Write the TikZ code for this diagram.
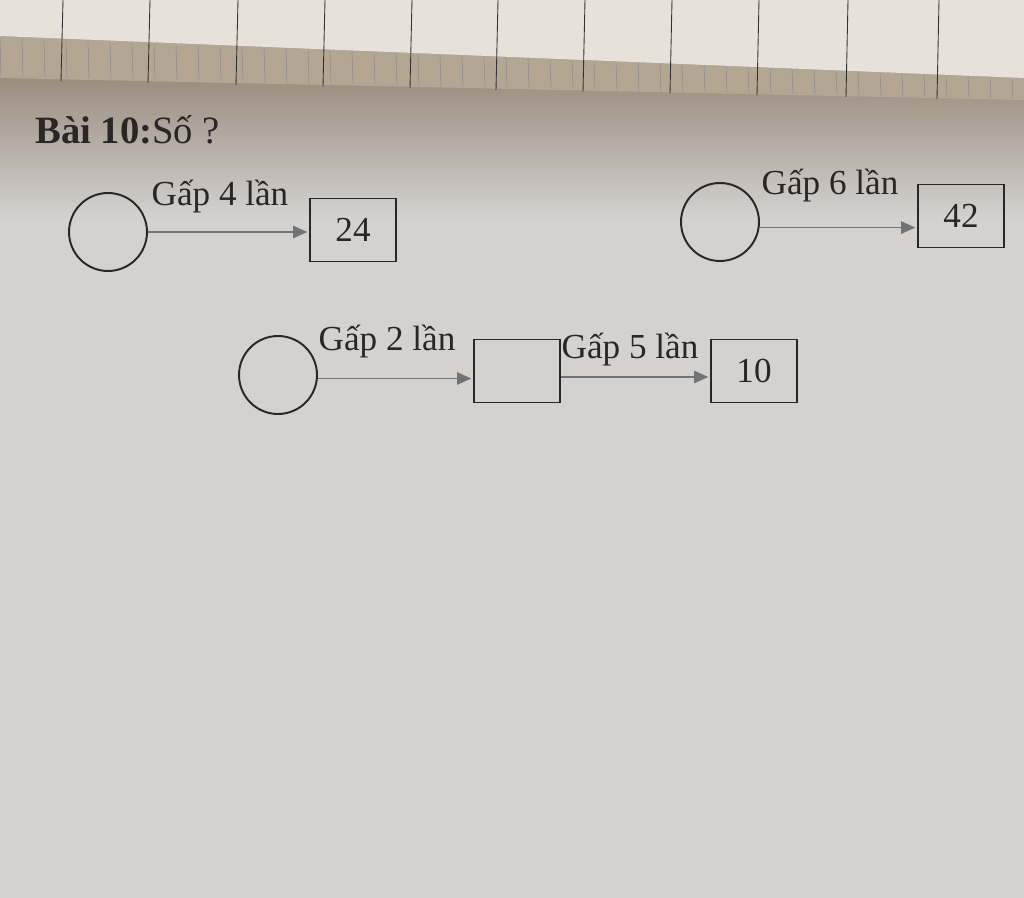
\documentclass[tikz,border=0pt]{standalone}
\usepackage{fontspec}
\setmainfont{Liberation Serif}
\usetikzlibrary{arrows.meta,positioning}
\definecolor{paperlow}{HTML}{D4D2D1}
\definecolor{papershade}{HTML}{978A7A}
\definecolor{stripwhite}{HTML}{E6E2DA}
\definecolor{gridband}{HTML}{B3A692}
\definecolor{ink}{HTML}{2A2626}

\begin{document}
\begin{tikzpicture}[x=0.02cm,y=-0.02cm,
  circ/.style={draw=ink,circle,minimum size=1.56cm,line width=1.1pt,inner sep=0pt},
  box/.style={draw=ink,rectangle,minimum width=1.72cm,minimum height=1.26cm,line width=1.1pt,
    text=ink,font=\fontsize{20}{24}\selectfont},
  arr/.style={draw=black!55,line width=0.8pt,shorten >=1pt,
    -{Triangle[length=8pt,width=7pt,fill=black!55]}},
  lbl/.style={text=ink,font=\fontsize{20}{24}\selectfont}]
\useasboundingbox (0,0) rectangle (1024,898);
%%%%% PAPER %%%%%
\fill[paperlow] (0,0) rectangle (1024,898);
\shade[top color=papershade,bottom color=paperlow] (0,70) rectangle (1024,220);
\fill[gridband] (0,30) -- (1024,70) -- (1024,100) -- (0,78) -- cycle;
\foreach \x in {0,22,...,1024}
  \draw[black!45,line width=0.3pt] (\x,{38+\x*0.04}) -- (\x+1,{76+\x*0.022});
\fill[stripwhite] (0,0) -- (1024,0) -- (1024,78) -- (0,36) -- cycle;
\foreach \x in {63,150,238,325,412,498,585,672,759,848,939}
  \draw[black!80,line width=0.5pt] (\x,0) -- (\x-2,{80+\x*0.02});

%%%%% TITLE %%%%%
\node[anchor=west,text=ink,font=\fontsize{22}{26}\selectfont,inner sep=0pt] (title) at (35,130)
  {\textbf{Bài 10:}Số ?};

%%%%% FIRST %%%%%
\node[circ] (c1) at (108,232) {};
\node[box] (b1) at (353,230) {24};
\draw[arr] (c1.east) -- (c1.east -| b1.west);
\node[lbl] (l1) at (220,197) {Gấp 4 lần};

%%%%% SECOND %%%%%
\node[circ] (c2) at (720,222) {};
\node[box] (b2) at (961,216) {42};
\draw[arr] (c2.-8) -- (c2.-8 -| b2.west);
\node[lbl] (l2) at (830,186) {Gấp 6 lần};

%%%%% THIRD %%%%%
\node[circ] (c3) at (278,375) {};
\node[box] (b3) at (517,371) {};
\node[box] (b4) at (754,371) {10};
\draw[arr] (c3.-5) -- (c3.-5 -| b3.west);
\draw[arr] (b3.east |- 0,377) -- (b4.west |- 0,377);
\node[lbl] (l3) at (387,342) {Gấp 2 lần};
\node[lbl] (l4) at (630,350) {Gấp 5 lần};
\end{tikzpicture}
\end{document}
